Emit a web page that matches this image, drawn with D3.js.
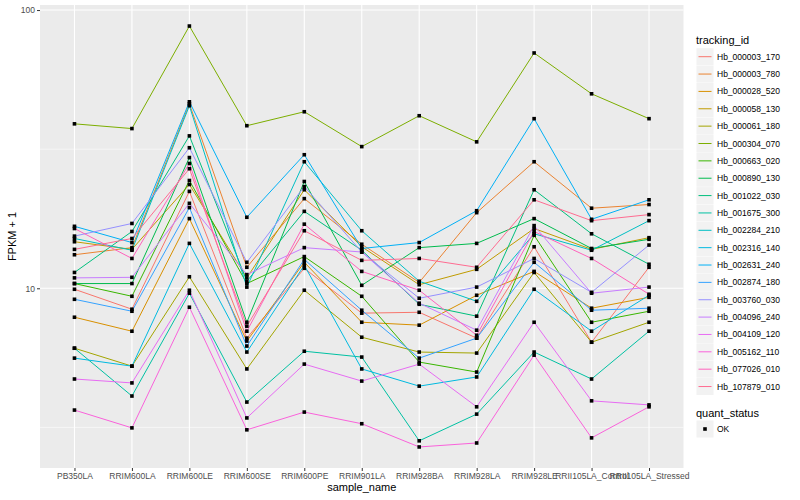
<!DOCTYPE html>
<html><head><meta charset="utf-8">
<script src="https://cdn.jsdelivr.net/npm/d3@7"></script>
<style>body{margin:0;background:#fff}svg{display:block}text{font-family:"Liberation Sans",Arial,Helvetica,sans-serif}</style>
</head><body><svg id="c" width="800" height="500"></svg>
<script>
const categories = ["PB350LA","RRIM600LA","RRIM600LE","RRIM600SE","RRIM600PE","RRIM901LA","RRIM928BA","RRIM928LA","RRIM928LE","RRII105LA_Control","RRII105LA_Stressed"];
const seriesNames = ["Hb_000003_170","Hb_000003_780","Hb_000028_520","Hb_000058_130","Hb_000061_180","Hb_000304_070","Hb_000663_020","Hb_000890_130","Hb_001022_030","Hb_001675_300","Hb_002284_210","Hb_002316_140","Hb_002631_240","Hb_002874_180","Hb_003760_030","Hb_004096_240","Hb_004109_120","Hb_005162_110","Hb_077026_010","Hb_107879_010"];
const seriesColors = ["#F8766D","#EA8331","#D89000","#C09B00","#A3A500","#7CAE00","#39B600","#00BB4E","#00BF7D","#00C1A3","#00BFC4","#00BAE0","#00B0F6","#35A2FF","#9590FF","#C77CFF","#E76BF3","#FA62DB","#FF62BC","#FF6C91"];
const s01 = [9.92, 8.41, 22.3, 6.62, 11.8, 8.14, 8.20, 6.62, 14.1, 6.40, 11.9];
const s02 = [13.2, 14.0, 46.0, 11.9, 21.0, 14.4, 10.5, 18.7, 28.5, 19.4, 20.0];
const s03 = [7.87, 7.01, 17.8, 6.46, 12.4, 7.55, 7.37, 9.44, 11.5, 8.48, 9.28];
const s04 = [14.7, 13.8, 23.6, 10.9, 22.6, 14.1, 10.3, 11.7, 16.4, 13.8, 15.2];
const s05 = [6.09, 5.25, 11.0, 5.13, 9.84, 6.67, 5.90, 5.85, 11.4, 6.40, 7.55];
const s06 = [39.0, 37.5, 87.6, 38.4, 43.1, 32.3, 41.7, 33.6, 70.1, 50.0, 40.7];
const s07 = [10.4, 9.36, 24.4, 10.4, 13.0, 9.36, 5.43, 5.00, 15.5, 7.55, 8.27];
const s08 = [10.4, 10.4, 29.5, 7.55, 24.2, 10.25, 14.0, 14.5, 17.8, 13.9, 15.0];
const s09 = [11.4, 16.0, 35.3, 10.6, 18.9, 13.7, 8.76, 7.94, 22.6, 15.7, 12.2];
const s10 = [6.09, 4.10, 9.60, 3.90, 5.94, 5.66, 2.83, 3.53, 5.90, 4.72, 7.01];
const s11 = [15.1, 13.7, 45.3, 10.1, 28.5, 16.1, 10.6, 8.98, 15.7, 13.7, 17.5];
const s12 = [5.61, 5.25, 14.5, 5.90, 12.1, 5.13, 4.45, 4.80, 9.92, 7.01, 9.44];
const s13 = [16.7, 14.6, 46.8, 18.0, 30.2, 13.9, 14.6, 19.0, 40.7, 17.7, 20.8];
const s14 = [9.13, 8.27, 19.5, 6.20, 12.7, 8.34, 5.61, 6.62, 12.4, 8.34, 8.48];
const s15 = [15.4, 17.1, 32.0, 12.4, 23.2, 13.5, 9.21, 10.1, 12.8, 9.67, 14.3];
const s16 = [10.9, 10.95, 20.2, 11.2, 14.0, 13.5, 8.84, 7.07, 16.8, 9.60, 10.1];
const s17 = [4.72, 4.57, 9.84, 3.42, 5.34, 4.64, 5.34, 3.75, 7.55, 3.94, 3.81];
const s18 = [3.65, 3.15, 8.55, 3.10, 3.59, 3.26, 2.69, 2.78, 5.75, 2.90, 3.75];
const s19 = [16.4, 12.8, 28.1, 7.01, 17.0, 11.5, 9.84, 6.78, 16.0, 12.8, 9.52];
const s20 = [13.8, 15.1, 26.9, 7.31, 16.1, 12.6, 12.8, 11.9, 20.8, 17.5, 18.4];
const yTicks = [10, 100];
const yMinor = [Math.sqrt(10), Math.sqrt(1000)];

const allSeries = [s01,s02,s03,s04,s05,s06,s07,s08,s09,s10,s11,s12,s13,s14,s15,s16,s17,s18,s19,s20];
const series = allSeries.map((v,i)=>({name:seriesNames[i], color:seriesColors[i], values:v}));

const svg = d3.select("#c");
const P = {l:40, r:683.5, t:5, b:468};
const allVals = allSeries.flat();
const lmin = Math.log10(d3.min(allVals)), lmax = Math.log10(d3.max(allVals));
const ex = (lmax-lmin)*0.05;
const y = d3.scaleLog().domain([10**(lmin-ex), 10**(lmax+ex)]).range([P.b, P.t]);
const x = d3.scalePoint().domain(categories).range([P.l, P.r]).padding(0.6);

svg.append("rect").attr("x",P.l).attr("y",P.t).attr("width",P.r-P.l).attr("height",P.b-P.t).attr("fill","#EBEBEB");
const g = svg.append("g");
g.selectAll(".ymin").data(yMinor).join("line").attr("x1",P.l).attr("x2",P.r).attr("y1",d=>y(d)).attr("y2",d=>y(d)).attr("stroke","#fff").attr("stroke-width",0.55);
g.selectAll(".ymaj").data(yTicks).join("line").attr("x1",P.l).attr("x2",P.r).attr("y1",d=>y(d)).attr("y2",d=>y(d)).attr("stroke","#fff").attr("stroke-width",1.1);
g.selectAll(".xmaj").data(categories).join("line").attr("x1",d=>x(d)).attr("x2",d=>x(d)).attr("y1",P.t).attr("y2",P.b).attr("stroke","#fff").attr("stroke-width",1.1);

const line = d3.line().x((d,i)=>x(categories[i])).y(d=>y(d));
svg.append("g").selectAll("path").data(series).join("path")
  .attr("d",d=>line(d.values)).attr("fill","none").attr("stroke",d=>d.color).attr("stroke-width",1);
const pts = svg.append("g");
series.forEach(s=>{
  pts.selectAll(null).data(s.values).join("rect")
    .attr("x",(d,i)=>x(categories[i])-1.8).attr("y",d=>y(d)-1.8).attr("width",3.6).attr("height",3.6).attr("fill","#000");
});

// axes
const yAxis = svg.append("g").attr("transform",`translate(${P.l},0)`).call(d3.axisLeft(y).tickValues(yTicks).tickFormat(d3.format("d")).tickSize(3).tickPadding(2));
const xAxis = svg.append("g").attr("transform",`translate(0,${P.b})`).call(d3.axisBottom(x).tickSize(3).tickPadding(2));
[yAxis,xAxis].forEach(a=>{a.select(".domain").remove();a.selectAll(".tick line").attr("stroke","#333").attr("stroke-width",1);a.selectAll("text").attr("fill","#4D4D4D").style("font-size","8.5px").style("font-family","'Liberation Sans',Arial,sans-serif");});

svg.append("text").attr("x",(P.l+P.r)/2).attr("y",491).attr("text-anchor","middle").style("font-size","11px").attr("fill","#000").text("sample_name");
svg.append("text").attr("transform",`translate(16,${(P.t+P.b)/2}) rotate(-90)`).attr("text-anchor","middle").style("font-size","11px").attr("fill","#000").text("FPKM + 1");

// legend
const L = svg.append("g");
L.append("text").attr("x",696).attr("y",44).style("font-size","11px").text("tracking_id");
const step = 17.36, y0 = 56.7;
series.forEach((s,i)=>{
  const cy = y0 + i*step;
  L.append("rect").attr("x",696.5).attr("y",cy-8.5).attr("width",17).attr("height",17).attr("fill","#F2F2F2");
  L.append("line").attr("x1",698.5).attr("x2",711.5).attr("y1",cy).attr("y2",cy).attr("stroke",s.color).attr("stroke-width",1);
  L.append("text").attr("x",717).attr("y",cy+3).style("font-size","8.5px").attr("fill","#000").text(s.name);
});
L.append("text").attr("x",696).attr("y",417).style("font-size","11px").text("quant_status");
L.append("rect").attr("x",696.5).attr("y",429-8.5).attr("width",17).attr("height",17).attr("fill","#F2F2F2");
L.append("rect").attr("x",703.2).attr("y",427.2).attr("width",3.6).attr("height",3.6).attr("fill","#000");
L.append("text").attr("x",717).attr("y",432).style("font-size","8.5px").text("OK");
</script></body></html>
